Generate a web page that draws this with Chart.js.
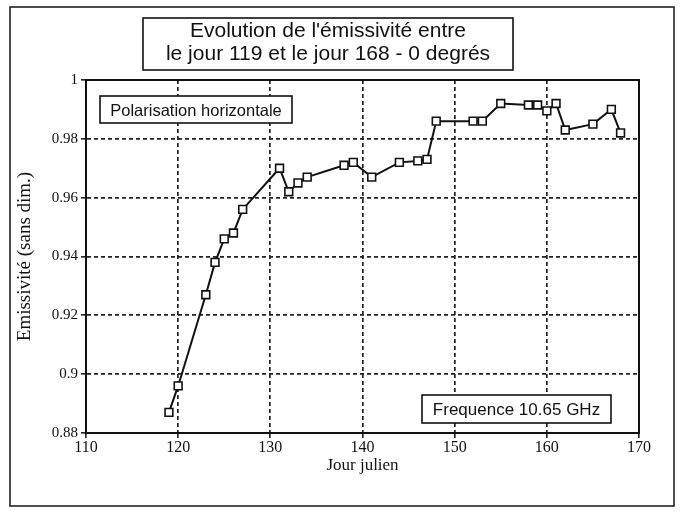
<!DOCTYPE html>
<html lang="fr">
<head>
<meta charset="utf-8">
<title>Evolution de l'émissivité</title>
<script src="https://cdn.jsdelivr.net/npm/chart.js@4.4.1/dist/chart.umd.min.js"></script>
<style>
    html, body { margin: 0; padding: 0; background: #fff; }
    #wrap { width: 682px; height: 513px; }
</style>
</head>
<body>
<div id="wrap"><canvas id="emisChart" width="682" height="513"></canvas></div>
<script>
// Jour julien / emissivite
const days = [119, 120, 123, 124, 125, 126, 127, 131, 132, 133, 134, 138, 139, 141, 144, 146, 147,
              148, 152, 153, 155, 158, 159, 160, 161, 162, 165, 167, 168];
const emissivity = [0.887, 0.896, 0.927, 0.938, 0.946, 0.948, 0.956, 0.970, 0.962, 0.965, 0.967, 0.971, 0.972,
                    0.967, 0.972, 0.9725, 0.973, 0.986, 0.986, 0.986, 0.992, 0.9915, 0.9915, 0.9895, 0.992,
                    0.983, 0.985, 0.990, 0.982];
const xTicks = [110, 120, 130, 140, 150, 160, 170];
const yTicks = [0.88, 0.9, 0.92, 0.94, 0.96, 0.98, 1];

const titleLines = ["Evolution de l'émissivité entre", "le jour 119 et le jour 168 - 0 degrés"];
const polarText = 'Polarisation horizontale';
const freqText = 'Frequence 10.65 GHz';
const xTitle = 'Jour julien';
const yTitle = 'Emissivité (sans dim.)';

const serif = '"Liberation Serif", "Times New Roman", serif';
const sans = '"Liberation Sans", Arial, sans-serif';

function boxedText(ctx, lines, box, size, baselines) {
    ctx.save();
    ctx.fillStyle = '#fff';
    ctx.fillRect(box.x, box.y, box.w, box.h);
    ctx.strokeStyle = '#111';
    ctx.lineWidth = 1.6;
    ctx.strokeRect(box.x, box.y, box.w, box.h);
    ctx.fillStyle = '#111';
    ctx.font = size + 'px ' + sans;
    ctx.textAlign = 'center';
    ctx.textBaseline = 'alphabetic';
    lines.forEach((line, i) => {
        ctx.fillText(line, box.x + box.w / 2, box.y + baselines[i]);
    });
    ctx.restore();
}

const decorations = {
    id: 'decorations',
    beforeDraw(chart) {
        const ctx = chart.ctx;
        ctx.save();
        ctx.fillStyle = '#fff';
        ctx.fillRect(0, 0, chart.width, chart.height);
        ctx.restore();
    },
    // les cartouches passent sous la courbe mais au-dessus de la grille
    beforeDatasetsDraw(chart) {
        const ctx = chart.ctx;
        const area = chart.chartArea;
        boxedText(ctx, [polarText], { x: area.left + 14, y: area.top + 16, w: 192, h: 27 }, 16.5, [20]);
        boxedText(ctx, [freqText], { x: area.left + 336, y: area.bottom - 38, w: 189, h: 28 }, 17, [20]);
    },
    afterDraw(chart) {
        const ctx = chart.ctx;
        const area = chart.chartArea;

        // cadre exterieur
        ctx.save();
        ctx.strokeStyle = '#222';
        ctx.lineWidth = 1.6;
        ctx.strokeRect(10, 7, 664, 499);

        // cadre du graphe
        ctx.strokeStyle = '#111';
        ctx.lineWidth = 2;
        ctx.strokeRect(area.left, area.top, area.right - area.left, area.bottom - area.top);
        ctx.restore();

        boxedText(ctx, titleLines, { x: 143, y: 18, w: 370, h: 52 }, 21, [19, 42]);
    }
};

function initChart() {
    const ctx = document.getElementById('emisChart').getContext('2d');
    const points = days.map((d, i) => ({ x: d, y: emissivity[i] }));

    new Chart(ctx, {
        type: 'line',
        data: {
            datasets: [{
                data: points,
                borderColor: '#111',
                borderWidth: 2,
                pointStyle: 'rect',
                pointRadius: 5.5,
                pointBorderWidth: 1.6,
                pointBackgroundColor: '#fff',
                pointBorderColor: '#111',
                tension: 0,
                fill: false
            }]
        },
        options: {
            responsive: false,
            animation: false,
            layout: {
                padding: { top: 80, right: 43, left: 0, bottom: 0 }
            },
            plugins: {
                legend: { display: false },
                tooltip: { enabled: false }
            },
            scales: {
                x: {
                    type: 'linear',
                    min: 110,
                    max: 170,
                    afterBuildTicks: scale => { scale.ticks = xTicks.map(v => ({ value: v })); },
                    afterFit: scale => { scale.height = 80; },
                    grid: {
                        color: '#222',
                        lineWidth: 1.7,
                        tickLength: 5,
                        tickColor: '#111',
                        tickWidth: 1.5,
                        tickBorderDash: []
                    },
                    border: { display: true, color: '#111', width: 2, dash: [4, 3] },
                    ticks: {
                        color: '#111',
                        padding: 0,
                        maxRotation: 0,
                        font: { family: serif, size: 16 }
                    },
                    title: {
                        display: true,
                        text: xTitle,
                        color: '#111',
                        font: { family: serif, size: 17 },
                        padding: { top: 0, bottom: 37 }
                    }
                },
                y: {
                    min: 0.88,
                    max: 1,
                    afterBuildTicks: scale => { scale.ticks = yTicks.map(v => ({ value: v })); },
                    afterFit: scale => { scale.width = 86; },
                    grid: {
                        color: '#222',
                        lineWidth: 1.7,
                        tickLength: 5,
                        tickColor: '#111',
                        tickWidth: 1.5,
                        tickBorderDash: []
                    },
                    border: { display: true, color: '#111', width: 2, dash: [4, 3] },
                    ticks: {
                        color: '#111',
                        padding: 3,
                        font: { family: serif, size: 15 },
                        callback: value => String(Number(value.toFixed(2)))
                    },
                    title: {
                        display: true,
                        text: yTitle,
                        color: '#111',
                        font: { family: serif, size: 19 },
                        padding: { top: 14, bottom: 0 }
                    }
                }
            }
        },
        plugins: [decorations]
    });
}

initChart();
</script>
</body>
</html>
